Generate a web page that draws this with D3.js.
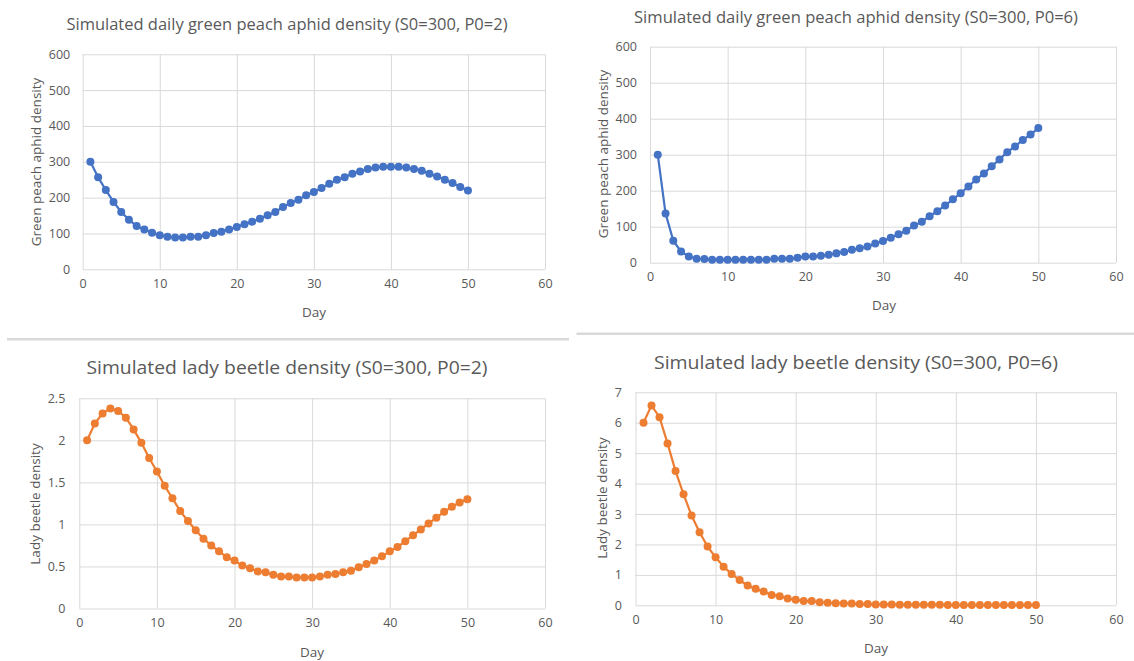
<!DOCTYPE html>
<html>
<head>
<meta charset="utf-8">
<script src="https://cdn.jsdelivr.net/npm/d3@7"></script>
<style>
  html, body { margin: 0; padding: 0; background: #ffffff; }
  svg { display: block; }
  text { font-family: "Open Sans", "Noto Sans", sans-serif; fill: #595959; }
</style>
</head>
<body>
<svg id="chart" width="1134" height="661"></svg>
<script>
// ---------- data ----------
const days = d3.range(1, 51);
const xTicks = [0, 10, 20, 30, 40, 50, 60];

const aphidP2 = [300, 257, 221, 188, 160, 138, 121, 111, 102, 95,
                 91, 89, 89, 91, 91, 95, 101, 105, 111, 118,
                 126, 133, 141, 151, 160, 174, 185, 194, 207, 216,
                 227, 239, 250, 257, 267, 273, 280, 284, 286, 286,
                 286, 284, 280, 275, 267, 259, 250, 241, 230, 220];

const aphidP6 = [300, 137, 61, 31, 17, 11, 10, 8, 8, 8,
                 8, 8, 8, 8, 8, 11, 11, 11, 14, 17,
                 17, 19, 22, 26, 30, 36, 40, 45, 53, 60,
                 69, 79, 89, 103, 114, 129, 143, 159, 176, 193,
                 212, 231, 248, 268, 287, 307, 323, 341, 356, 374];

const beetleP2 = [2.00, 2.20, 2.32, 2.38, 2.35, 2.27, 2.13, 1.97, 1.79, 1.63,
                  1.46, 1.31, 1.16, 1.04, 0.93, 0.83, 0.75, 0.68, 0.61, 0.57,
                  0.51, 0.48, 0.44, 0.43, 0.40, 0.38, 0.38, 0.37, 0.37, 0.37,
                  0.38, 0.40, 0.41, 0.43, 0.45, 0.49, 0.53, 0.57, 0.62, 0.68,
                  0.73, 0.80, 0.87, 0.94, 1.01, 1.08, 1.15, 1.21, 1.26, 1.30];

const beetleP6 = [6.00, 6.57, 6.18, 5.32, 4.41, 3.65, 2.95, 2.40, 1.93, 1.58,
                  1.27, 1.03, 0.83, 0.65, 0.54, 0.45, 0.34, 0.30, 0.22, 0.18,
                  0.14, 0.14, 0.10, 0.08, 0.07, 0.06, 0.06, 0.04, 0.04, 0.03,
                  0.03, 0.03, 0.02, 0.02, 0.02, 0.02, 0.02, 0.02, 0.01, 0.01,
                  0.01, 0.01, 0.01, 0.01, 0.01, 0.01, 0.01, 0.01, 0.01, 0.01];

const aphidTicks = [0, 100, 200, 300, 400, 500, 600];
const beetleP2Ticks = [0, 0.5, 1, 1.5, 2, 2.5];
const beetleP6Ticks = [0, 1, 2, 3, 4, 5, 6, 7];

const titles = [
  "Simulated daily green peach aphid density (S0=300, P0=2)",
  "Simulated daily green peach aphid density (S0=300, P0=6)",
  "Simulated lady beetle density (S0=300, P0=2)",
  "Simulated lady beetle density (S0=300, P0=6)"
];
const yTitles = ["Green peach aphid density", "Green peach aphid density",
                 "Lady beetle density", "Lady beetle density"];
const xTitle = "Day";

const BLUE = "#4472C4", ORANGE = "#ED7D31";

// ---------- layout ----------
const panels = [
  { values: aphidP2, yTicks: aphidTicks, color: BLUE, title: titles[0], yTitle: yTitles[0],
    x0: 82.7, x1: 545, yT: 54.3, yB: 269.3, tX: 287, tY: 24, tLen: 441, tSize: 15.5,
    ytX: 36, ytY: 162, dayX: 314, dayY: 311.5, ylGap: 12.5, xlGap: 17.5 },
  { values: aphidP6, yTicks: aphidTicks, color: BLUE, title: titles[1], yTitle: yTitles[1],
    x0: 650, x1: 1116, yT: 46.7, yB: 262.7, tX: 856, tY: 16.7, tLen: 444, tSize: 15.5,
    ytX: 603, ytY: 154, dayX: 884, dayY: 305, ylGap: 13, xlGap: 17.5 },
  { values: beetleP2, yTicks: beetleP2Ticks, color: ORANGE, title: titles[2], yTitle: yTitles[2],
    x0: 79.3, x1: 545, yT: 398.3, yB: 608.5, tX: 287, tY: 366.7, tLen: 401, tSize: 18,
    ytX: 35, ytY: 504, dayX: 312, dayY: 651.5, ylGap: 14, xlGap: 18 },
  { values: beetleP6, yTicks: beetleP6Ticks, color: ORANGE, title: titles[3], yTitle: yTitles[3],
    x0: 635.5, x1: 1116, yT: 392.3, yB: 605.3, tX: 856, tY: 362, tLen: 404, tSize: 18,
    ytX: 602, ytY: 498, dayX: 876, dayY: 648, ylGap: 13.5, xlGap: 18 }
];

const svg = d3.select("#chart");
svg.append("rect").attr("width", 1134).attr("height", 661).attr("fill", "#fff");

// separators
svg.append("line").attr("x1", 7).attr("x2", 569).attr("y1", 339.3).attr("y2", 339.3)
  .attr("stroke", "#d9d9d9").attr("stroke-width", 2.5);
svg.append("line").attr("x1", 576.5).attr("x2", 1134).attr("y1", 333.7).attr("y2", 333.7)
  .attr("stroke", "#d9d9d9").attr("stroke-width", 2.5);

panels.forEach(p => {
  const g = svg.append("g");
  const yMax = p.yTicks[p.yTicks.length - 1];
  const x = d3.scaleLinear().domain([0, 60]).range([p.x0, p.x1]);
  const y = d3.scaleLinear().domain([0, yMax]).range([p.yB, p.yT]);
  const w = p.x1 - p.x0, h = p.yB - p.yT;

  // horizontal gridlines + y labels
  const ya = g.append("g").attr("transform", `translate(${p.x0},0)`)
    .call(d3.axisLeft(y).tickValues(p.yTicks).tickSize(-w).tickPadding(p.ylGap)
      .tickFormat(d => d3.format("")(d)));
  ya.select(".domain").remove();
  ya.selectAll("line").attr("stroke", "#d9d9d9").attr("stroke-width", 1);
  ya.selectAll("text").attr("font-size", 12.5).attr("fill", "#595959")
    .style("font-family", '"Open Sans", sans-serif');

  // vertical gridlines + x labels
  const xa = g.append("g").attr("transform", `translate(0,${p.yB})`)
    .call(d3.axisBottom(x).tickValues(xTicks).tickSize(-h).tickPadding(p.xlGap - 8));
  xa.select(".domain").remove();
  xa.selectAll("line").attr("stroke", "#d9d9d9").attr("stroke-width", 1);
  xa.selectAll("text").attr("font-size", 12.5).attr("fill", "#595959")
    .style("font-family", '"Open Sans", sans-serif');

  // line + markers
  const pts = days.map((d, i) => [d, p.values[i]]);
  g.append("path").datum(pts)
    .attr("fill", "none").attr("stroke", p.color).attr("stroke-width", 2.2)
    .attr("stroke-linejoin", "round")
    .attr("d", d3.line().x(d => x(d[0])).y(d => y(d[1])));
  g.selectAll("circle").data(pts).join("circle")
    .attr("cx", d => x(d[0])).attr("cy", d => y(d[1])).attr("r", 4)
    .attr("fill", p.color);

  // titles
  g.append("text").attr("x", p.tX).attr("y", p.tY).attr("text-anchor", "middle")
    .attr("dominant-baseline", "central").attr("font-size", p.tSize)
    .attr("textLength", p.tLen).attr("lengthAdjust", "spacingAndGlyphs")
    .text(p.title);
  g.append("text").attr("x", p.dayX).attr("y", p.dayY).attr("text-anchor", "middle")
    .attr("dominant-baseline", "central").attr("font-size", 13.5).text(xTitle);
  g.append("text").attr("transform", `translate(${p.ytX},${p.ytY}) rotate(-90)`)
    .attr("text-anchor", "middle").attr("dominant-baseline", "central")
    .attr("font-size", 13.5).text(p.yTitle);
});
</script>
</body>
</html>
